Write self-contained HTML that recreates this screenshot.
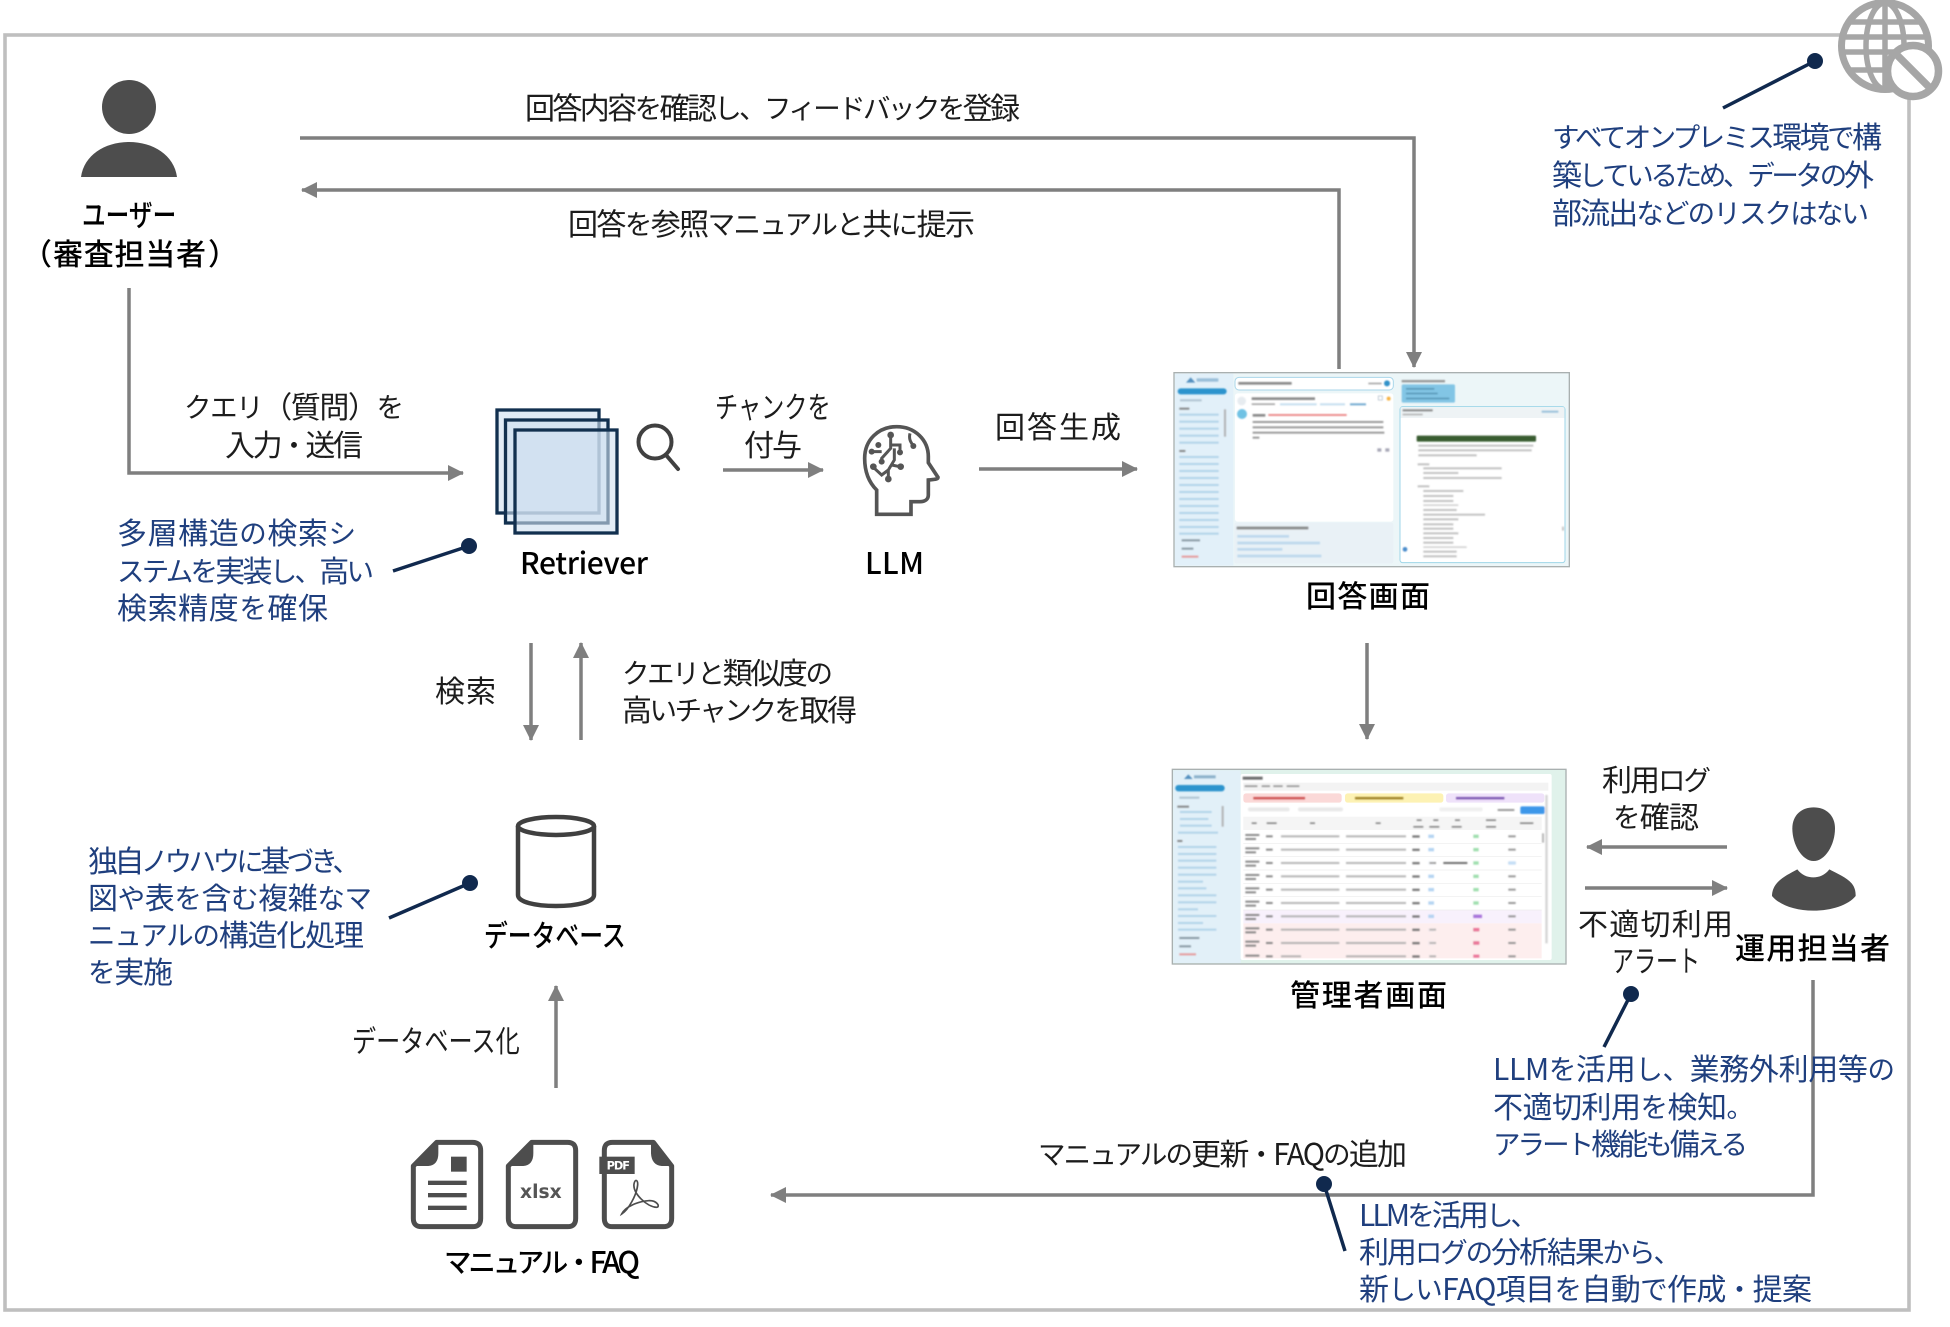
<!DOCTYPE html>
<html lang="ja"><head><meta charset="utf-8"><title>構成図</title>
<style>
html,body{margin:0;padding:0;background:#fff;width:1950px;height:1327px;overflow:hidden}
svg{display:block}
text{font-family:"Noto Sans CJK JP","Liberation Sans",sans-serif;font-size:30px;dominant-baseline:central}
tspan.s{font-size:27.5px}
.k{fill:#1c1c1c;font-weight:400}
.b{fill:#000;font-weight:500}
.n{fill:#1f3f7e;font-weight:400}
.a{fill:none;stroke:#7f7f7f;stroke-width:3.5}
.c{stroke:#10294e;stroke-width:3.5}
</style></head><body>
<svg xmlns="http://www.w3.org/2000/svg" width="1950" height="1327" viewBox="0 0 1950 1327">
<defs>
<marker id="ar" markerUnits="userSpaceOnUse" markerWidth="16" markerHeight="16" refX="15" refY="8" orient="auto"><path d="M0,0L16,8L0,16Z" fill="#7f7f7f"/></marker>
<filter id="bl" x="-5%" y="-5%" width="110%" height="110%"><feGaussianBlur stdDeviation="2.6"/></filter>
</defs>
<rect width="1950" height="1327" fill="#fff"/>
<!-- frame -->
<rect x="5" y="35" width="1904" height="1275" fill="none" stroke="#bfbfbf" stroke-width="3.6"/>

<!-- globe -->
<circle cx="1885" cy="46" r="43.5" fill="#fff" stroke="#a6a6a6" stroke-width="7"/>
<g fill="none" stroke="#a6a6a6" stroke-width="5.5">
<ellipse cx="1885" cy="46" rx="19" ry="43"/>
<path d="M1885,3V89M1851,22H1919M1843,37H1927M1843,52H1927M1851,70H1919"/>
</g>
<circle cx="1913" cy="71" r="25.5" fill="#fff" stroke="#a6a6a6" stroke-width="7.5"/>
<path d="M1896,54L1930,88" stroke="#a6a6a6" stroke-width="7.5"/>

<!-- connectors -->
<path class="a" d="M300,138H1414V367" marker-end="url(#ar)"/>
<path class="a" d="M1339,369V190H302" marker-end="url(#ar)"/>
<path class="a" d="M129,288V473H463" marker-end="url(#ar)"/>
<path class="a" d="M723,470H823" marker-end="url(#ar)"/>
<path class="a" d="M979,469H1137" marker-end="url(#ar)"/>
<path class="a" d="M531,643V740" marker-end="url(#ar)"/>
<path class="a" d="M581,740V643" marker-end="url(#ar)"/>
<path class="a" d="M1367,643V739" marker-end="url(#ar)"/>
<path class="a" d="M1727,847H1587" marker-end="url(#ar)"/>
<path class="a" d="M1585,888H1727" marker-end="url(#ar)"/>
<path class="a" d="M1813,980V1195H771" marker-end="url(#ar)"/>
<path class="a" d="M556,1088V986" marker-end="url(#ar)"/>

<!-- callouts -->
<path class="c" d="M1815,61L1723,108M469,546L393,571M470,883L389,918M1631,994L1604,1047M1324,1184L1345,1251"/>
<g fill="#10294e">
<circle cx="1815" cy="61" r="8"/><circle cx="469" cy="546" r="8"/><circle cx="470" cy="883" r="8"/><circle cx="1631" cy="994" r="8"/><circle cx="1324" cy="1184" r="8"/>
</g>

<!-- user -->
<circle cx="129" cy="107" r="27" fill="#4d4d4d"/>
<path d="M81,177C84,155 105,142 129,142C153,142 174,155 177,177Z" fill="#4d4d4d"/>

<!-- operator -->
<g transform="translate(1740,790) scale(.33333)" fill="#4d4d4d">
<path d="M157,115C157,75 185,52 221,52C257,52 285,75 285,115C285,165 255,213 221,213C187,213 157,165 157,115Z"/>
<path d="M172,238C185,255 202,262 220,262C238,262 255,255 268,238C290,250 320,262 335,280C345,292 347,305 347,318C325,345 275,362 220,362C165,362 118,345 96,318C96,305 100,292 110,280C125,262 150,250 172,238Z"/>
</g>

<!-- retriever -->
<g fill="#cfe0f0" fill-opacity=".6" stroke="#12304f" stroke-width="3.3">
<rect x="497" y="410" width="102" height="103"/>
<rect x="505.500" y="420" width="102.500" height="103"/>
<rect x="515" y="430" width="102" height="103"/>
</g>
<circle cx="655" cy="442" r="16.500" fill="none" stroke="#404040" stroke-width="4"/>
<path d="M666,455L678,469" stroke="#404040" stroke-width="4" stroke-linecap="round" fill="none"/>

<!-- brain -->
<g transform="translate(700,390) scale(.33333)" fill="none" stroke="#555">
<path stroke-width="11" d="M530,373V300C505,275 494,240 494,205C494,150 535,110 590,110C645,110 685,150 685,200V218L714,262C714,268 705,268 685,270V315C685,328 675,335 660,335H633V373Z"/>
<path stroke-width="9" d="M572,135V175L545,205V215M572,165H600V190M583,175V210L565,240V265M565,240L545,255L520,232M575,225L600,230M512,185H545M630,130C625,150 635,160 642,170"/>
<g fill="#555" stroke="none">
<circle cx="572" cy="135" r="10"/><circle cx="535" cy="165" r="9"/><circle cx="515" cy="185" r="9"/><circle cx="520" cy="230" r="10"/><circle cx="545" cy="215" r="9"/><circle cx="565" cy="267" r="10"/><circle cx="602" cy="230" r="10"/><circle cx="600" cy="187" r="9"/><circle cx="640" cy="168" r="9"/>
</g>
</g>

<!-- database -->
<g fill="#fff" stroke="#404040" stroke-width="4.5">
<path d="M518,826V895C518,902 535,906 556,906C577,906 594,902 594,895V826"/>
<ellipse cx="556" cy="826" rx="38" ry="9"/>
</g>

<!-- files -->
<g transform="translate(380,1110) scale(.33333)">
<g fill="#fff" stroke="#4d4d4d" stroke-width="15" stroke-linejoin="round">
<path d="M170,97H278Q302,97 302,122V325Q302,350 278,350H125Q100,350 100,325V168Z"/>
<path d="M455,97H563Q587,97 587,122V325Q587,350 563,350H410Q385,350 385,325V168Z"/>
<path d="M820,97H697Q673,97 673,122V325Q673,350 697,350H850Q875,350 875,325V168Z"/>
</g>
<g fill="#4d4d4d">
<path d="M172,97L100,168H145Q175,165 175,130V97Z"/>
<path d="M457,97L385,168H430Q460,165 460,130V97Z"/>
<path d="M815,97L878,168H845Q815,165 813,130V97Z"/>
<rect x="213" y="140" width="47" height="45"/>
<rect x="144" y="212" width="116" height="13"/>
<rect x="144" y="249" width="116" height="13"/>
<rect x="144" y="287" width="116" height="13"/>
<rect x="658" y="140" width="106" height="52"/>
</g>
<text x="420" y="248" textLength="125" style="font-family:'DejaVu Sans',sans-serif;font-size:56px;font-weight:700;fill:#555">xlsx</text>
<text x="680" y="166" textLength="70" style="font-family:'DejaVu Sans',sans-serif;font-size:34px;font-weight:700;fill:#fff">PDF</text>
<path d="M725,312C745,300 770,255 773,225C774,210 765,205 762,222C758,250 800,290 830,292C842,290 830,270 805,272C775,274 735,290 725,312Z" fill="none" stroke="#4d4d4d" stroke-width="5"/>
</g>

<!-- answer screen -->
<g transform="translate(1150,350) scale(.33333)">
<rect x="72" y="68" width="1186" height="582" fill="#ecf6f8" stroke="#a9b0b0" stroke-width="4"/>
<rect x="75" y="71" width="175" height="576" fill="#e2f0f9"/>
<rect x="255" y="130" width="475" height="385" rx="8" fill="#fff"/>
<rect x="255" y="82" width="475" height="38" rx="12" fill="#fff" stroke="#a9d6ea" stroke-width="3"/>
<rect x="253" y="518" width="477" height="122" rx="6" fill="#e9f1f6"/>
<rect x="750" y="170" width="495" height="468" rx="8" fill="#fff" stroke="#9fd6e8" stroke-width="3"/>
<rect x="752" y="172" width="491" height="32" fill="#eef3f5"/>
<g filter="url(#bl)" opacity=".85">
<path d="M108,98L122,82L136,98Z" fill="#3b7fb5"/>
<rect x="140" y="85" width="65" height="10" fill="#8db6d3"/>
<rect x="83" y="115" width="147" height="18" rx="9" fill="#1184c6"/>
<rect x="90" y="148" width="65" height="6" fill="#a7bccb"/>
<g fill="#a9cee6">
<rect x="88" y="173" width="30" height="6" fill="#777"/>
<rect x="88" y="191" width="118" height="6"/><rect x="88" y="212" width="118" height="6"/><rect x="88" y="233" width="118" height="6"/><rect x="88" y="254" width="118" height="6"/><rect x="88" y="275" width="118" height="6"/>
<rect x="88" y="300" width="18" height="6" fill="#777"/>
<rect x="88" y="318" width="118" height="6"/><rect x="88" y="339" width="118" height="6"/><rect x="88" y="360" width="118" height="6"/><rect x="88" y="381" width="118" height="6"/><rect x="88" y="402" width="118" height="6"/><rect x="88" y="423" width="118" height="6"/><rect x="88" y="444" width="118" height="6"/><rect x="88" y="465" width="118" height="6"/><rect x="88" y="486" width="118" height="6"/><rect x="88" y="507" width="118" height="6"/><rect x="88" y="528" width="118" height="6"/><rect x="88" y="548" width="118" height="6"/>
</g>
<rect x="222" y="178" width="6" height="82" fill="#a9a9a9"/>
<rect x="95" y="568" width="55" height="6" fill="#7a8b96"/><rect x="95" y="593" width="35" height="6" fill="#7a8b96"/><rect x="95" y="617" width="50" height="6" fill="#e58d8d"/>
<rect x="265" y="96" width="160" height="8" fill="#777"/>
<rect x="655" y="98" width="40" height="5" fill="#999"/>
<circle cx="711" cy="100" r="9" fill="#0f7fc0"/>
<circle cx="275" cy="153" r="13" fill="#e3e9ee"/>
<circle cx="276" cy="192" r="15" fill="#58b8e0"/>
<rect x="305" y="142" width="190" height="8" fill="#777"/>
<rect x="305" y="160" width="70" height="5" fill="#999"/>
<rect x="390" y="160" width="110" height="6" fill="#bcd9ec"/>
<rect x="510" y="160" width="75" height="6" fill="#bcd9ec"/>
<rect x="600" y="160" width="48" height="6" fill="#5b9cc9"/>
<rect x="685" y="138" width="12" height="12" fill="none" stroke="#9ab" stroke-width="2"/>
<circle cx="716" cy="146" r="6" fill="#f5a623"/>
<rect x="308" y="192" width="38" height="8" fill="#777"/>
<rect x="355" y="192" width="235" height="6" fill="#ea7a7a"/>
<rect x="308" y="213" width="392" height="6" fill="#888"/>
<rect x="308" y="229" width="392" height="6" fill="#888"/>
<rect x="308" y="245" width="395" height="6" fill="#888"/>
<rect x="308" y="260" width="20" height="6" fill="#888"/>
<rect x="682" y="295" width="12" height="10" fill="#99a"/><rect x="706" y="295" width="12" height="10" fill="#99a"/>
<rect x="260" y="530" width="215" height="8" fill="#777"/>
<rect x="262" y="555" width="155" height="8" fill="#b6d4ec"/>
<rect x="262" y="575" width="248" height="8" fill="#b6d4ec"/>
<rect x="262" y="594" width="135" height="8" fill="#b6d4ec"/>
<rect x="262" y="614" width="252" height="8" fill="#b6d4ec"/>
<rect x="755" y="90" width="130" height="7" fill="#888"/>
<rect x="755" y="103" width="160" height="55" rx="5" fill="#70bde2"/>
<rect x="768" y="114" width="85" height="5" fill="#3d87ad"/><rect x="768" y="128" width="95" height="5" fill="#3d87ad"/><rect x="768" y="143" width="130" height="5" fill="#3d87ad"/>
<rect x="758" y="178" width="90" height="6" fill="#777"/><rect x="758" y="191" width="60" height="5" fill="#aaa"/>
<rect x="1175" y="182" width="50" height="6" fill="#8bb8d6"/>
<rect x="800" y="257" width="358" height="18" rx="3" fill="#123f10"/>
<g fill="#b8b8b8">
<rect x="805" y="284" width="345" height="6"/><rect x="805" y="298" width="340" height="6"/><rect x="805" y="313" width="175" height="6"/>
<rect x="803" y="340" width="35" height="6"/><rect x="820" y="352" width="235" height="6"/><rect x="820" y="366" width="105" height="6"/><rect x="820" y="381" width="235" height="6"/>
<rect x="803" y="406" width="35" height="6"/><rect x="820" y="420" width="120" height="6"/><rect x="820" y="435" width="90" height="6"/><rect x="820" y="450" width="90" height="6"/><rect x="820" y="463" width="105" height="5" fill="#ccc"/><rect x="820" y="477" width="100" height="6"/><rect x="820" y="491" width="185" height="6"/><rect x="820" y="505" width="105" height="6"/><rect x="820" y="520" width="90" height="6"/><rect x="820" y="533" width="90" height="6"/><rect x="820" y="547" width="105" height="6"/><rect x="820" y="561" width="90" height="6"/><rect x="820" y="575" width="90" height="6"/><rect x="820" y="589" width="130" height="5" fill="#ccc"/><rect x="820" y="602" width="100" height="6"/><rect x="820" y="616" width="100" height="6"/>
</g>
<circle cx="765" cy="598" r="7" fill="#2c78c2"/>
<rect x="1236" y="530" width="6" height="12" fill="#bbb"/>
</g>
</g>

<!-- admin screen -->
<g transform="translate(1150,750) scale(.33333)">
<rect x="67" y="58" width="1181" height="584" fill="#e0f2eb" stroke="#a9b0b0" stroke-width="4"/>
<rect x="70" y="61" width="202" height="578" fill="#e2f0f8"/>
<rect x="272" y="72" width="933" height="558" rx="6" fill="#fff"/>
<rect x="280" y="98" width="915" height="24" fill="#f3f3f3"/>
<rect x="280" y="130" width="295" height="28" rx="8" fill="#fbd9d8"/>
<rect x="585" y="130" width="295" height="28" rx="8" fill="#fdf2b4"/>
<rect x="888" y="130" width="295" height="28" rx="8" fill="#efe2fa"/>
<rect x="280" y="200" width="895" height="40" fill="#f5f5f5"/>
<rect x="280" y="480" width="895" height="40" fill="#f8f1fc"/>
<rect x="280" y="520" width="895" height="105" fill="#fdeeee"/>
<g filter="url(#bl)" opacity=".85">
<path d="M102,87L115,73L128,87Z" fill="#3b7fb5"/><rect x="132" y="76" width="65" height="9" fill="#7ea7c4"/>
<rect x="76" y="105" width="148" height="19" rx="9" fill="#1184c6"/>
<rect x="88" y="140" width="60" height="6" fill="#a7bccb"/>
<g fill="#a9cee6">
<rect x="82" y="167" width="35" height="6" fill="#777"/>
<rect x="90" y="183" width="95" height="6"/><rect x="90" y="204" width="85" height="6"/><rect x="90" y="224" width="95" height="6"/><rect x="84" y="245" width="120" height="6"/>
<rect x="82" y="270" width="15" height="6" fill="#777"/>
<rect x="84" y="288" width="115" height="6"/><rect x="84" y="309" width="115" height="6"/><rect x="84" y="329" width="115" height="6"/><rect x="84" y="350" width="115" height="6"/><rect x="84" y="371" width="115" height="6"/><rect x="84" y="392" width="75" height="6"/><rect x="84" y="412" width="85" height="6"/><rect x="84" y="433" width="115" height="6"/><rect x="84" y="454" width="115" height="6"/><rect x="84" y="475" width="60" height="6"/><rect x="84" y="495" width="115" height="6"/><rect x="84" y="516" width="75" height="6"/><rect x="84" y="536" width="115" height="6"/>
</g>
<rect x="215" y="168" width="6" height="62" fill="#a9a9a9"/>
<rect x="88" y="561" width="60" height="6" fill="#7a8b96"/><rect x="88" y="586" width="35" height="6" fill="#7a8b96"/><rect x="88" y="610" width="50" height="6" fill="#e58d8d"/>
<rect x="278" y="80" width="60" height="9" fill="#555"/>
<g fill="#888"><rect x="284" y="106" width="38" height="5"/><rect x="335" y="106" width="25" height="5"/><rect x="370" y="106" width="28" height="5"/><rect x="410" y="106" width="38" height="5"/></g>
<rect x="310" y="141" width="155" height="7" fill="#c63b3b"/>
<rect x="615" y="141" width="145" height="7" fill="#8f6f0d"/>
<rect x="918" y="141" width="145" height="7" fill="#6b3fa6"/>
<rect x="294" y="172" width="125" height="12" rx="6" fill="#e5e5e5"/>
<rect x="444" y="172" width="135" height="12" rx="6" fill="#e5e5e5"/>
<rect x="868" y="172" width="130" height="12" rx="6" fill="#ededed"/>
<rect x="1043" y="177" width="50" height="6" fill="#888"/>
<rect x="1111" y="169" width="73" height="23" rx="5" fill="#1b85e6"/>
<rect x="1186" y="135" width="7" height="445" fill="#ccc"/>
<rect x="1176" y="250" width="6" height="28" fill="#aaa"/>
<g fill="#777">
<rect x="305" y="217" width="15" height="5"/><rect x="350" y="217" width="30" height="5"/><rect x="480" y="217" width="15" height="5"/><rect x="677" y="217" width="15" height="5"/><rect x="800" y="208" width="15" height="5"/><rect x="790" y="228" width="30" height="5"/><rect x="850" y="208" width="15" height="5"/><rect x="838" y="228" width="30" height="5"/><rect x="915" y="208" width="15" height="5"/><rect x="905" y="228" width="30" height="5"/><rect x="1008" y="208" width="30" height="5"/><rect x="1008" y="228" width="30" height="5"/><rect x="1110" y="217" width="40" height="5"/>
</g>
</g>
<g filter="url(#bl)" opacity=".85">
<!-- rows -->
<g id="r">
<rect x="286" y="252" width="42" height="6" fill="#777"/><rect x="286" y="264" width="32" height="6" fill="#777"/><rect x="348" y="256" width="20" height="6" fill="#777"/><rect x="393" y="256" width="175" height="6" fill="#aaa"/><rect x="588" y="256" width="180" height="6" fill="#aaa"/><rect x="787" y="256" width="22" height="7" fill="#666"/><rect x="835" y="254" width="17" height="10" fill="#a8cdf0"/><rect x="970" y="254" width="16" height="10" fill="#8fd9a0"/><rect x="1075" y="256" width="22" height="6" fill="#888"/>
</g>
<use href="#r" y="40"/>
<g transform="translate(0,80)"><use href="#r"/><rect x="835" y="254" width="17" height="10" fill="#fff"/><rect x="838" y="256" width="20" height="6" fill="#888"/><rect x="880" y="256" width="72" height="6" fill="#555"/><rect x="1075" y="254" width="22" height="10" fill="#bcd9f5"/></g>
<use href="#r" y="120"/><use href="#r" y="160"/><use href="#r" y="200"/>
<g transform="translate(0,240)"><use href="#r"/><rect x="970" y="254" width="26" height="10" fill="#9b5fd6"/></g>
<g transform="translate(0,280)"><use href="#r"/><rect x="835" y="254" width="17" height="10" fill="#fdeeee"/><rect x="838" y="256" width="20" height="6" fill="#aaa"/><rect x="970" y="254" width="18" height="10" fill="#e8608a"/></g>
<g transform="translate(0,320)"><use href="#r"/><rect x="835" y="254" width="17" height="10" fill="#fdeeee"/><rect x="838" y="256" width="20" height="6" fill="#aaa"/><rect x="970" y="254" width="18" height="10" fill="#e8608a"/></g>
<g transform="translate(0,360)"><rect x="286" y="254" width="42" height="6" fill="#777"/><rect x="348" y="256" width="20" height="6" fill="#777"/><rect x="393" y="256" width="60" height="6" fill="#aaa"/><rect x="588" y="256" width="180" height="6" fill="#aaa"/><rect x="787" y="256" width="22" height="7" fill="#666"/><rect x="838" y="256" width="20" height="6" fill="#aaa"/><rect x="970" y="254" width="18" height="9" fill="#e8608a"/><rect x="1075" y="256" width="22" height="6" fill="#888"/></g>
</g>
<g stroke="#ececec" stroke-width="2">
<path d="M280,280H1175M280,320H1175M280,360H1175M280,400H1175M280,440H1175M280,480H1175"/>
</g>
</g>

<!-- labels -->
<g transform="translate(0,-2)">
<text class="k" x="525" y="108" textLength="495">回答内容<tspan class="s">を</tspan>確認<tspan class="s">し、フィードバックを</tspan>登録</text>
<text class="k" x="568" y="224" textLength="407">回答<tspan class="s">を</tspan>参照<tspan class="s">マニュアルと</tspan>共<tspan class="s">に</tspan>提示</text>
<text class="k" x="184" y="407" textLength="220"><tspan class="s">クエリ</tspan>（質問）<tspan class="s">を</tspan></text>
<text class="k" x="225" y="445" textLength="138">入力<tspan class="s">・</tspan>送信</text>
<text class="k" transform="translate(715,407) scale(.773,1)">チャンクを</text>
<text class="k" x="744" y="445" textLength="58">付与</text>
<text class="k" x="995" y="427" textLength="126">回答生成</text>
<text class="b" x="520" y="563" textLength="128">Retriever</text>
<text class="b" x="865" y="563" textLength="59">LLM</text>
<text class="b" x="1306" y="596" textLength="124">回答画面</text>
<text class="n" x="117" y="533" textLength="239">多層構造<tspan class="s">の</tspan>検索<tspan class="s">シ</tspan></text>
<text class="n" x="117" y="571" textLength="257"><tspan class="s">ステムを</tspan>実装<tspan class="s">し、</tspan>高<tspan class="s">い</tspan></text>
<text class="n" x="117" y="608" textLength="211">検索精度<tspan class="s">を</tspan>確保</text>
<text class="k" x="435" y="691" textLength="61">検索</text>
<text class="k" x="622" y="673" textLength="211"><tspan class="s">クエリと</tspan>類似度<tspan class="s">の</tspan></text>
<text class="k" x="622" y="710" textLength="235">高<tspan class="s">いチャンクを</tspan>取得</text>
<text class="b" transform="translate(484,936) scale(.794,1)">データベース</text>
<text class="n" x="88" y="861" textLength="272">独自<tspan class="s">ノウハウに</tspan>基<tspan class="s">づき、</tspan></text>
<text class="n" x="88" y="898" textLength="284">図<tspan class="s">や</tspan>表<tspan class="s">を</tspan>含<tspan class="s">む</tspan>複雑<tspan class="s">なマ</tspan></text>
<text class="n" x="88" y="935" textLength="276"><tspan class="s">ニュアルの</tspan>構造化処理</text>
<text class="n" x="88" y="972" textLength="85"><tspan class="s">を</tspan>実施</text>
<text class="k" transform="translate(352,1041) scale(.805,1)">データベース化</text>
<text class="b" x="444" y="1262" textLength="196"><tspan class="s">マニュアル・</tspan>FAQ</text>
<text class="k" x="1038" y="1154" textLength="369"><tspan class="s">マニュアルの</tspan>更新<tspan class="s">・</tspan>FAQ<tspan class="s">の</tspan>追加</text>
<text class="n" x="1359" y="1215" textLength="179">LLM<tspan class="s">を</tspan>活用<tspan class="s">し、</tspan></text>
<text class="n" x="1359" y="1252" textLength="322">利用<tspan class="s">ログの</tspan>分析結果<tspan class="s">から、</tspan></text>
<text class="n" x="1359" y="1289" textLength="453">新<tspan class="s">しい</tspan>FAQ項目<tspan class="s">を</tspan>自動<tspan class="s">で</tspan>作成<tspan class="s">・</tspan>提案</text>
<text class="n" x="1493" y="1069" textLength="402">LLM<tspan class="s">を</tspan>活用<tspan class="s">し、</tspan>業務外利用等<tspan class="s">の</tspan></text>
<text class="n" x="1493" y="1107" textLength="261">不適切利用<tspan class="s">を</tspan>検知<tspan class="s">。</tspan></text>
<text class="n" x="1493" y="1144" textLength="255"><tspan class="s">アラート</tspan>機能<tspan class="s">も</tspan>備<tspan class="s">える</tspan></text>
<text class="k" x="1602" y="780" textLength="109">利用<tspan class="s">ログ</tspan></text>
<text class="k" x="1613" y="817" textLength="86"><tspan class="s">を</tspan>確認</text>
<text class="k" x="1578" y="924" textLength="155">不適切利用</text>
<text class="k" transform="translate(1612,961) scale(.733,1)">アラート</text>
<text class="b" x="1735" y="948" textLength="155">運用担当者</text>
<text class="b" x="1290" y="995" textLength="157">管理者画面</text>
<text class="n" x="1552" y="137" textLength="330"><tspan class="s">すべてオンプレミス</tspan>環境<tspan class="s">で</tspan>構</text>
<text class="n" x="1552" y="175" textLength="322">築<tspan class="s">しているため、データの</tspan>外</text>
<text class="n" x="1552" y="213" textLength="317">部流出<tspan class="s">などのリスクはない</tspan></text>
<text class="b" transform="translate(82,215) scale(.79,1)">ユーザー</text>
<text class="b" x="22" y="254">（</text>
<text class="b" x="53" y="254" textLength="153">審査担当者</text>
<text class="b" x="208" y="254">）</text>
</g>
</svg>
</body></html>
